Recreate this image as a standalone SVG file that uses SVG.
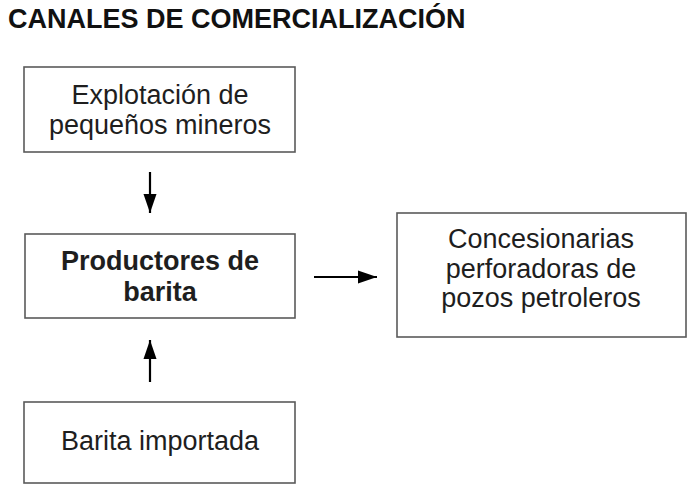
<svg xmlns="http://www.w3.org/2000/svg" width="688" height="486" viewBox="0 0 688 486">
<style>
.box{fill:#fff;stroke:#5a5a5a;stroke-width:1.6}
.t{font-family:"Liberation Sans",Arial,sans-serif;font-size:27px;fill:#1e1e1e;text-anchor:middle}
.b{font-weight:bold}
.title{font-family:"Liberation Sans",Arial,sans-serif;font-size:27px;font-weight:bold;fill:#111}
.c{stroke:#000;stroke-width:2.2;fill:none}
</style>
<defs>
<marker id="ah" markerUnits="userSpaceOnUse" markerWidth="20" markerHeight="14" refX="19" refY="7" orient="auto">
<path d="M0,0.5 L19,7 L0,13.5 z" fill="#000"/>
</marker>
</defs>
<rect width="688" height="486" fill="#fff"/>
<text class="title" x="8" y="28">CANALES DE COMERCIALIZACIÓN</text>
<g id="n1">
<rect class="box" x="24" y="67" width="271" height="85"/>
<text class="t" x="160" y="104">Explotación de</text>
<text class="t" x="160" y="134">pequeños mineros</text>
</g>
<g id="n2">
<rect class="box" x="25" y="234" width="270" height="84"/>
<text class="t b" x="160" y="270">Productores de</text>
<text class="t b" x="160" y="301">barita</text>
</g>
<g id="n3">
<rect class="box" x="24" y="402" width="271" height="81"/>
<text class="t" x="160" y="450">Barita importada</text>
</g>
<g id="n4">
<rect class="box" x="397" y="213" width="289" height="124"/>
<text class="t" x="541" y="248">Concesionarias</text>
<text class="t" x="541" y="278">perforadoras de</text>
<text class="t" x="541" y="307">pozos petroleros</text>
</g>
<g id="connectors">
<line class="c" x1="150" y1="172" x2="150" y2="213" marker-end="url(#ah)"/>
<line class="c" x1="150" y1="382" x2="150" y2="340" marker-end="url(#ah)"/>
<line class="c" x1="314" y1="277" x2="377" y2="277" marker-end="url(#ah)"/>
</g>
</svg>
